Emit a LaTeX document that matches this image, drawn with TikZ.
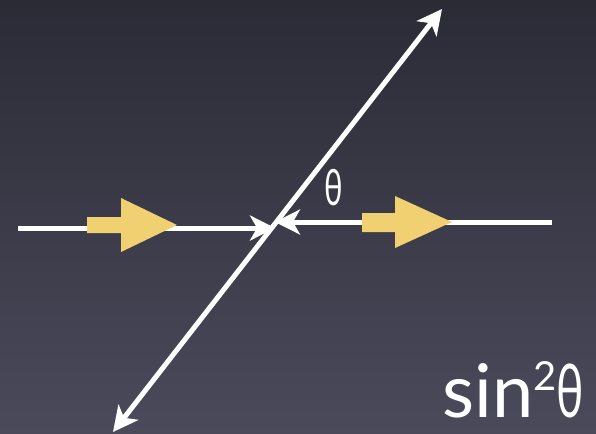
\documentclass[tikz,border=0pt]{standalone}
\usepackage{fontspec}
\setmainfont{Lato}
\usetikzlibrary{arrows.meta}
\definecolor{bgtop}{HTML}{2B2B36}
\definecolor{bgbot}{HTML}{4B4A5B}
\definecolor{yarrowc}{HTML}{F0D070}
\newcommand{\narrowtheta}{\scalebox{0.62}[1]{θ}}
\tikzset{
  wline/.style={draw=white,line width=5pt},
  whead/.style={-{Stealth[length=25pt,width=25pt,inset=7pt]}},
  wheads/.style={{Stealth[length=25pt,width=25pt,inset=7pt]}-{Stealth[length=25pt,width=25pt,inset=7pt]}},
  yfill/.style={fill=yarrowc,draw=none},
  lbl/.style={text=white,inner sep=0pt,text depth=0pt},
}
\begin{document}
\begin{tikzpicture}[x=1pt,y=-1pt]
\shade[top color=bgtop,bottom color=bgbot] (0,0) rectangle (596,433);
\useasboundingbox (0,0) rectangle (596,433);
% coordinates
\coordinate (L0) at (18,228);
\coordinate (L1) at (275,228);
\coordinate (R0) at (552,222);
\coordinate (R1) at (275,222);
\coordinate (D0) at (113,432);
\coordinate (D1) at (442,9);
% lines
\draw[wline,whead] (L0) -- (L1);
\draw[wline,whead] (R0) -- (R1);
\draw[wline,wheads] (D0) -- (D1);
% yellow block arrows
\fill[yfill] (87,217) -- (121,217) -- (121,198) -- (177,225) -- (121,252) -- (121,233) -- (87,233) -- cycle;
\fill[yfill] (362,213) -- (395,213) -- (395,196) -- (452,222) -- (395,248) -- (395,232) -- (362,232) -- cycle;
% labels
\node[lbl,anchor=base] (th) at (334,205) {\fontsize{50}{50}\selectfont\narrowtheta};
\node[lbl,anchor=base west] (s2) at (442,417) {\fontsize{74}{74}\selectfont sin\raisebox{27pt}{\fontsize{40}{40}\selectfont 2}\narrowtheta};
\end{tikzpicture}
\end{document}
